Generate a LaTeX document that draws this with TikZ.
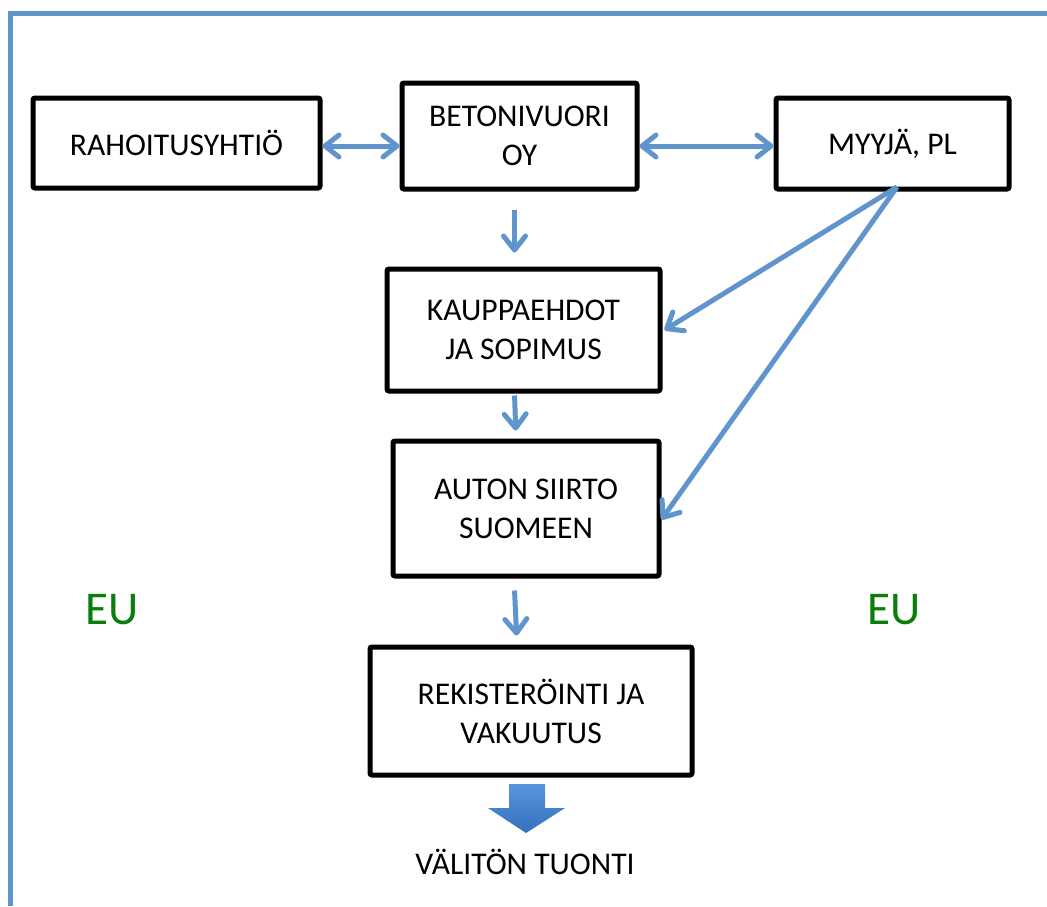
\documentclass[tikz,border=0pt]{standalone}
\usepackage{fontspec}
\setmainfont{Carlito}
\usetikzlibrary{arrows.meta}
\definecolor{linkblue}{RGB}{96,148,204}
\definecolor{arrowtop}{RGB}{88,150,220}
\definecolor{arrowbot}{RGB}{52,112,190}
\definecolor{eugreen}{RGB}{10,125,10}
\begin{document}
\begin{tikzpicture}[x=0.5pt,y=-0.5pt]
        \tikzset{
            box/.style={draw=black, line width=2.5pt, rounded corners=1pt, align=center,
                font=\fontsize{15.8}{19.5}\selectfont, inner sep=0pt},
            link/.style={draw=linkblue, line width=2.5pt,
                -{Straight Barb[length=7pt,width=11pt,round]}},
            both/.style={link, {Straight Barb[length=7pt,width=11pt,round]}-{Straight Barb[length=7pt,width=11pt,round]}},
            eu_text/.style={font=\fontsize{23.5}{28}\selectfont, text=eugreen}
        }
        \useasboundingbox (0,0) rectangle (1047,906);
        \draw[linkblue, line width=2.5pt] (1047,13) -- (10,13) -- (10,906);

        \node[box, minimum width=143.5pt, minimum height=45pt] (rah) at (176.5,143) {RAHOITUSYHTIÖ};
        \node[box, minimum width=117.5pt, minimum height=53pt] (bet) at (519.5,136) {BETONIVUORI\\OY};
        \node[box, minimum width=116.5pt, minimum height=45.5pt] (myy) at (892.5,143.5) {MYYJÄ, PL};
        \node[box, minimum width=136.5pt, minimum height=61pt] (kau) at (523.5,330) {KAUPPAEHDOT\\JA SOPIMUS};
        \node[box, minimum width=133pt, minimum height=67.5pt] (aut) at (526,508.5) {AUTON SIIRTO\\SUOMEEN};
        \node[box, minimum width=161pt, minimum height=64pt] (rek) at (531,711) {REKISTERÖINTI JA\\VAKUUTUS};

        \node[eu_text] (euL) at (112,610) {EU};
        \node[eu_text] (euR) at (894,610) {EU};
        \node[font=\fontsize{15.8}{19.5}\selectfont] (tuonti) at (525,862) {VÄLITÖN TUONTI};

        \coordinate (myyfoot) at (897,187);

        \draw[both] ([yshift=-1.5pt]rah.east) -- ([yshift=-5pt]bet.west);
        \draw[both] ([yshift=-5pt]bet.east) -- ([yshift=-1.25pt]myy.west);
        \draw[link, shorten <=9pt, shorten >=7pt] ([xshift=-2.5pt]bet.south) -- ([xshift=-4.5pt]kau.north);
        \draw[link, shorten <=1pt, shorten >=4pt] ([xshift=-4.5pt]kau.south) -- ([xshift=-5pt]aut.north);
        \draw[link, shorten <=6pt, shorten >=4.5pt] ([xshift=-6pt]aut.south) -- ([xshift=-7pt]rek.north);
        \draw[link] (myyfoot) -- ([xshift=1pt]kau.east);
        \draw[link] (myyfoot) -- ([yshift=-5.5pt]aut.east);

        % big arrow under the last box
        \shade[top color=arrowtop, bottom color=arrowbot]
            (509,784) -- (545,784) -- (545,808) -- (565,808) -- (526,833)
            -- (488,808) -- (509,808) -- cycle;
\end{tikzpicture}
\end{document}
